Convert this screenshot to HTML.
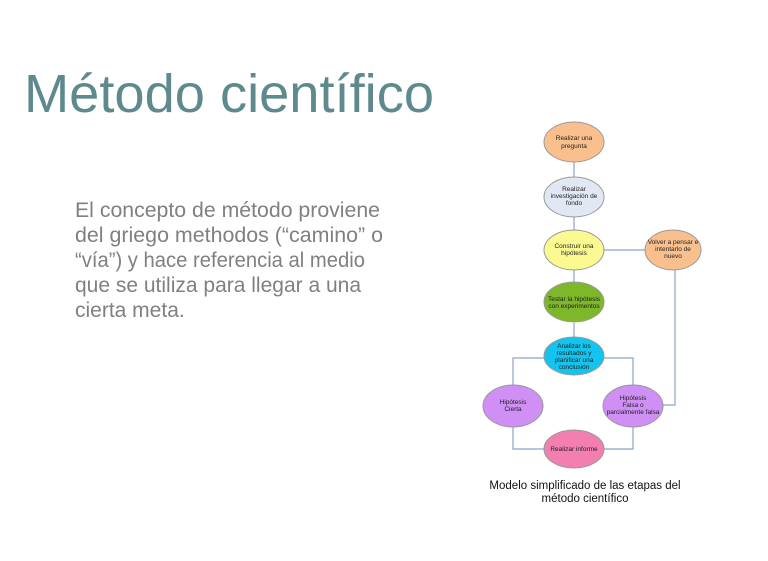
<!DOCTYPE html>
<html><head><meta charset="utf-8"><style>
html,body{margin:0;padding:0;background:#fff;}
svg{display:block}
</style></head><body>
<svg width="768" height="561" xmlns="http://www.w3.org/2000/svg" font-family="Liberation Sans, sans-serif">
<rect width="768" height="561" fill="#fff"/>
<text x="24" y="112" font-size="54" fill="#5e8a8d" textLength="410" lengthAdjust="spacingAndGlyphs">Método científico</text>
<g font-size="21" fill="#808080">
<text x="75" y="217" textLength="305" lengthAdjust="spacingAndGlyphs">El concepto de método proviene</text>
<text x="75" y="242" textLength="308" lengthAdjust="spacingAndGlyphs">del griego methodos (“camino” o</text>
<text x="75" y="267" textLength="290" lengthAdjust="spacingAndGlyphs">“vía”) y hace referencia al medio</text>
<text x="75" y="292" textLength="286" lengthAdjust="spacingAndGlyphs">que se utiliza para llegar a una</text>
<text x="75" y="317">cierta meta.</text>
</g>
<g stroke="#8ea3c8" stroke-width="1.2" fill="none">
<line x1="574" y1="162" x2="574" y2="177"/>
<line x1="574" y1="217" x2="574" y2="231"/>
<line x1="574" y1="270" x2="574" y2="283"/>
<line x1="574" y1="323" x2="574" y2="337"/>
<line x1="604" y1="250" x2="645" y2="250"/>
<polyline points="675,270 675,405 663,405"/>
<polyline points="545,358 513,358 513,385"/>
<polyline points="603,358 633,358 633,385"/>
<polyline points="513,427 513,449 544,449"/>
<polyline points="633,427 633,449 604,449"/>
</g>
<g stroke="#999" stroke-width="1">
<ellipse cx="574" cy="142" rx="30" ry="20" fill="#f9c08e"/>
<ellipse cx="574" cy="197" rx="30" ry="20" fill="#e2e8f3"/>
<ellipse cx="574" cy="250" rx="30" ry="20" fill="#fbfa90"/>
<ellipse cx="673" cy="250" rx="28" ry="20" fill="#f9c08e"/>
<ellipse cx="574" cy="302" rx="30" ry="20" fill="#7cb82a"/>
<ellipse cx="574" cy="356" rx="30" ry="19" fill="#13c4ef"/>
<ellipse cx="513" cy="406" rx="30" ry="21" fill="#cf8ff4"/>
<ellipse cx="633" cy="406" rx="30" ry="21" fill="#cf8ff4"/>
<ellipse cx="574" cy="449" rx="30" ry="19" fill="#f27fb0"/>
</g>
<g font-size="6.5" fill="#222" text-anchor="middle">
<text x="574" y="140">Realizar una</text><text x="574" y="148">pregunta</text>
<text x="574" y="191">Realizar</text><text x="574" y="198">investigación de</text><text x="574" y="205">fondo</text>
<text x="574" y="248">Construir una</text><text x="574" y="255">hipótesis</text>
<text x="673" y="244">Volver a pensar e</text><text x="673" y="251">intentarlo de</text><text x="673" y="258">nuevo</text>
<text x="574" y="301">Testar la hipótesis</text><text x="574" y="308">con experimentos</text>
<text x="574" y="348">Analizar los</text><text x="574" y="355">resultados y</text><text x="574" y="362">planificar una</text><text x="574" y="369">conclusión</text>
<text x="513" y="404">Hipótesis</text><text x="513" y="411">Cierta</text>
<text x="633" y="400">Hipótesis</text><text x="633" y="407">Falsa o</text><text x="633" y="414">parcialmente falsa</text>
<text x="574" y="451">Realizar informe</text>
</g>
<g font-size="11.5" fill="#111" text-anchor="middle">
<text x="585" y="489">Modelo simplificado de las etapas del</text>
<text x="585" y="502">método científico</text>
</g>
</svg>
</body></html>
